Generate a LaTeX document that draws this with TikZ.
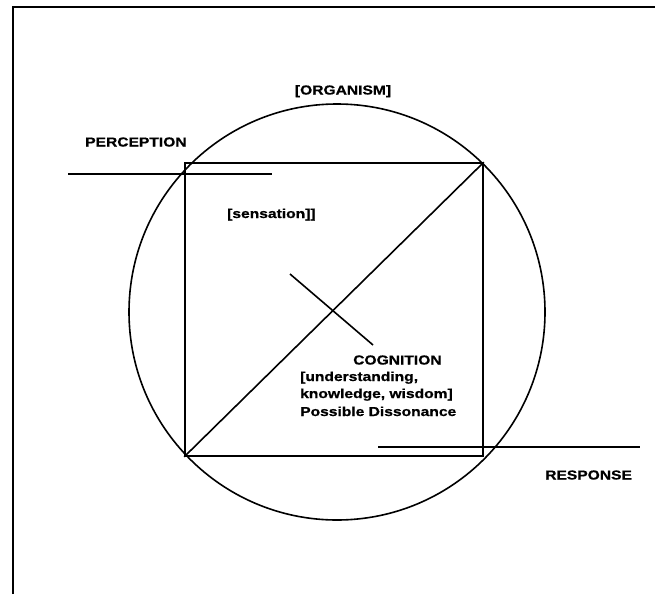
\documentclass[tikz,border=0pt]{standalone}
\usepackage{fontspec}
\newfontfamily\labelfont[FakeStretch=1.2, FakeBold=0.8]{Liberation Sans}
\usetikzlibrary{positioning,calc}
\tikzset{
  frameln/.style={line width=1.3pt},
  shapeln/.style={line width=1.6pt},
  lbl/.style={font=\labelfont\bfseries\fontsize{13}{17}\selectfont, inner sep=0pt, anchor=base west},
}

\begin{document}
\begin{tikzpicture}[x=1pt, y=-1pt]
    \useasboundingbox (0,0) rectangle (655,594);
    % page frame, cut at right and bottom
    \coordinate (fbl) at (13,594);
    \coordinate (ftl) at (13,7);
    \coordinate (ftr) at (655,7);
    \draw[frameln] (fbl) -- (ftl) -- (ftr);
    % organism and the square inside it
    \node[shapeln, draw, circle, minimum size=416pt, inner sep=0pt] (organism) at (337,312) {};
    \node[shapeln, draw, rectangle, minimum width=298pt, minimum height=293pt, inner sep=0pt]
      (mind) at (334,309.5) {};
    \draw[shapeln] (mind.south west) -- (mind.north east);
    % short cross stroke
    \coordinate (xa) at (290,274);
    \coordinate (xb) at (373,345);
    \draw[shapeln] (xa) -- (xb);
    % input and output levels
    \coordinate (pa) at (68,174);
    \coordinate (pb) at (272,174);
    \draw[shapeln] (pa) -- (pb);
    \coordinate (ra) at (378,447);
    \coordinate (rb) at (640,447);
    \draw[shapeln] (ra) -- (rb);
    % labels
    \node[lbl, anchor=base] (orglbl) at (343,94.5) {[ORGANISM]};
    \node[lbl] (perclbl) at (85,146.5) {PERCEPTION};
    \node[lbl] (senslbl) at (227,218) {[sensation]]};
    \node[lbl] (coglbl) at (353,364.5) {COGNITION};
    \node[lbl] (under) at (300,381) {[understanding,};
    \node[lbl] (know) at (300,398) {knowledge, wisdom]};
    \node[lbl] (disso) at (300,416) {Possible Dissonance};
    \node[lbl] (resplbl) at (545,479.5) {RESPONSE};
  \end{tikzpicture}
\end{document}
